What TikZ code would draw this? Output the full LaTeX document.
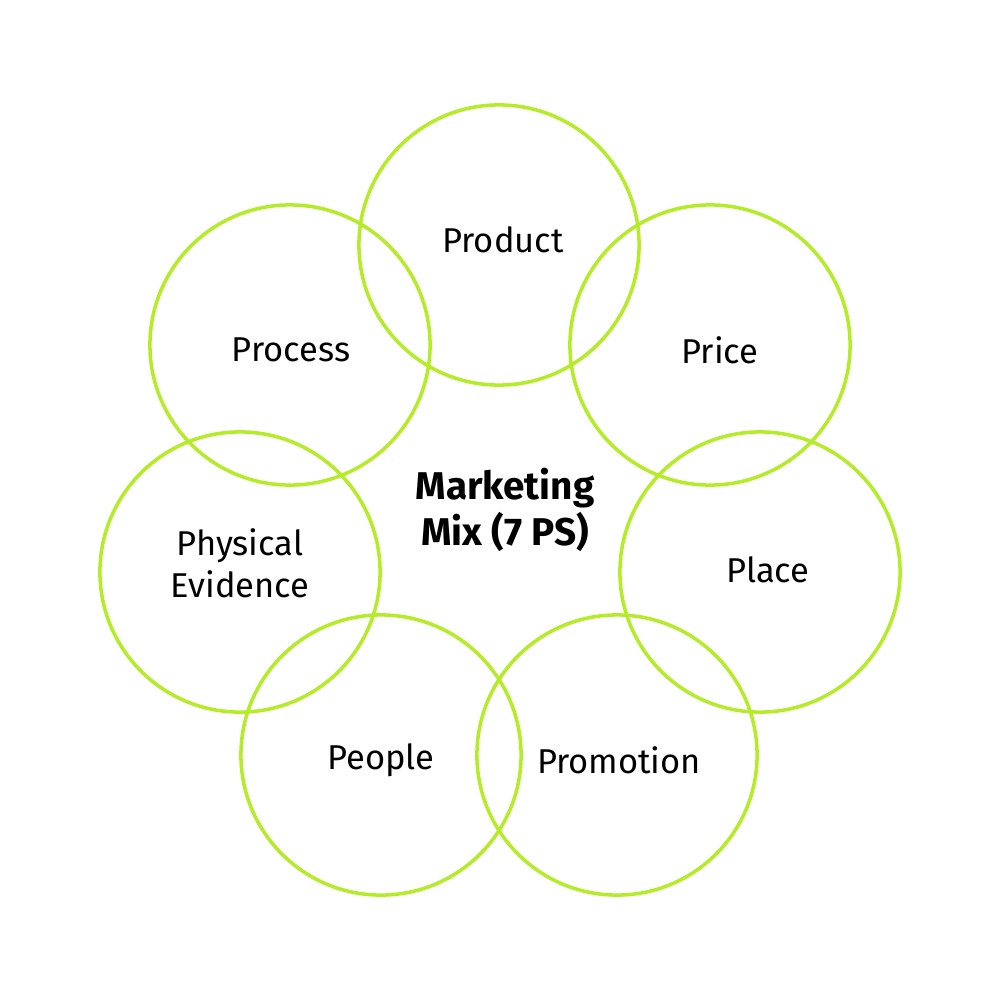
\documentclass[tikz,border=0pt]{standalone}
\usepackage{fontspec}
\setmainfont{Fira Sans}
\definecolor{lime}{RGB}{180,236,40}
\begin{document}
\begin{tikzpicture}[x=0.01cm,y=-0.01cm,
	ring/.style={circle,draw=lime,line width=1pt,minimum size=2.8cm,inner sep=0pt},
	lbl/.style={font=\fontsize{9.8}{12}\selectfont,align=center}]
	\useasboundingbox (0,0) rectangle (1000,1000);
	% Ringe
	\node[ring] (product) at (499,245) {};
	\node[ring] (price) at (710,345) {};
	\node[ring] (place) at (760,572) {};
	\node[ring] (promotion) at (617,755) {};
	\node[ring] (people) at (381,755) {};
	\node[ring] (evidence) at (240,572) {};
	\node[ring] (process) at (290,345) {};
	% Beschriftung
	\node[lbl] (tproduct) at (503,240) {Product};
	\node[lbl] (tprice) at (720,350) {Price};
	\node[lbl] (tplace) at (768,570) {Place};
	\node[lbl] (tpromotion) at (619,760) {Promotion};
	\node[lbl] (tpeople) at (381,760) {People};
	\node[lbl] (tevidence) at (240,563) {Physical\\Evidence};
	\node[lbl] (tprocess) at (291,350) {Process};
	\node[lbl,font=\fontsize{11}{13}\selectfont\fontseries{sb}\selectfont] (mix) at (505,510) {Marketing\\Mix (7 PS)};
\end{tikzpicture}
\end{document}
